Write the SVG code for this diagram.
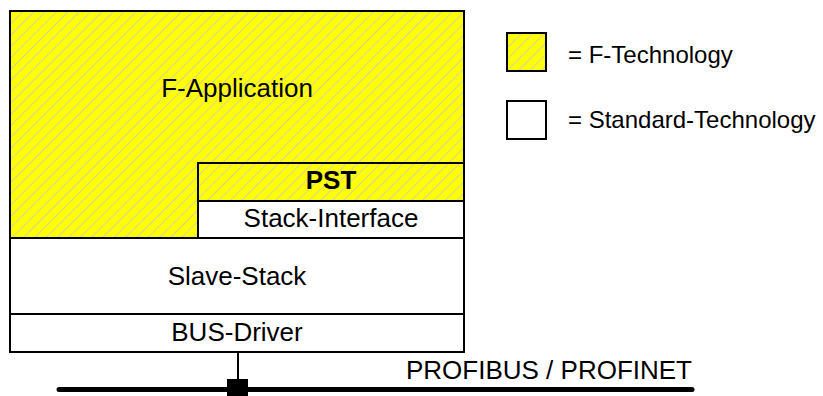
<svg xmlns="http://www.w3.org/2000/svg" width="823" height="396" viewBox="0 0 823 396">
  <style>
    .box { stroke: #000; stroke-width: 2; }
    .std { fill: #fff; }
    .ftech { fill: url(#hatch); }
    .lbl { font-family: "Liberation Sans", Arial, sans-serif; font-size: 26px; fill: #000; text-anchor: middle; }
    .bold { font-weight: bold; }
    .leg { font-family: "Liberation Sans", Arial, sans-serif; font-size: 24px; fill: #000; }
  </style>
  <defs>
    <!-- yellow fill with light grey diagonal hatching -->
    <pattern id="hatch" patternUnits="userSpaceOnUse" width="8" height="8" patternTransform="rotate(45)">
      <rect width="8" height="8" fill="#ffff00"/>
      <line x1="0" y1="0" x2="0" y2="8" stroke="#c8c8c8" stroke-width="1.6"/>
    </pattern>
  </defs>
  <rect width="823" height="396" fill="#fff"/>

  <g id="f-application">
    <rect class="box ftech" x="10" y="11" width="454" height="227"/>
    <text class="lbl" x="237" y="97">F-Application</text>
  </g>
  <g id="pst">
    <rect class="box ftech" x="198" y="163" width="266" height="38"/>
    <text class="lbl bold" x="331" y="189">PST</text>
  </g>
  <g id="stack-interface">
    <rect class="box std" x="198" y="201" width="266" height="37"/>
    <text class="lbl" x="331" y="227">Stack-Interface</text>
  </g>
  <g id="slave-stack">
    <rect class="box std" x="10" y="238" width="454" height="76"/>
    <text class="lbl" x="237" y="285">Slave-Stack</text>
  </g>
  <g id="bus-driver">
    <rect class="box std" x="10" y="314" width="454" height="38"/>
    <text class="lbl" x="237" y="341">BUS-Driver</text>
  </g>

  <g id="connectors">
    <line x1="238" y1="352" x2="238" y2="389" stroke="#000" stroke-width="2"/>
    <line x1="59" y1="389.5" x2="692" y2="389.5" stroke="#000" stroke-width="5" stroke-linecap="round"/>
    <rect x="227" y="379" width="21" height="21" fill="#000"/>
  </g>
  <g id="bus-label">
    <text class="lbl" x="692" y="379" style="text-anchor:end">PROFIBUS / PROFINET</text>
  </g>

  <g id="legend">
    <rect class="box ftech" x="507" y="33" width="39" height="38"/>
    <text class="leg" x="568" y="63">= F-Technology</text>
    <rect class="box std" x="507" y="101" width="39" height="38"/>
    <text class="leg" x="568" y="128">= Standard-Technology</text>
  </g>
</svg>
